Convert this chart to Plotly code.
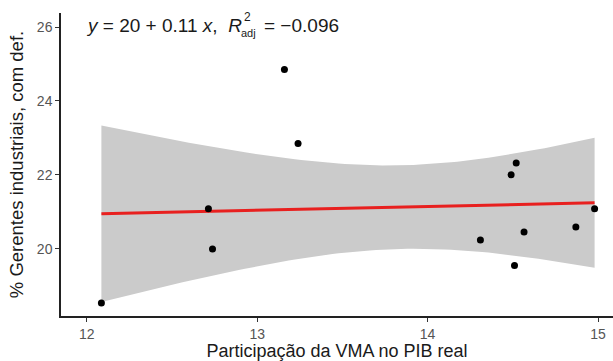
import numpy as np
import plotly.graph_objects as go

# Data
vma_share = [12.086, 13.16, 13.24, 12.714, 12.738, 14.52, 14.49, 14.31, 14.566, 14.51, 14.87, 14.98]
managers_pct = [18.53, 24.85, 22.85, 21.08, 19.99, 22.32, 22.0, 20.24, 20.45, 19.55, 20.59, 21.08]
x_ticks = [12, 13, 14, 15]
y_ticks = [20, 22, 24, 26]
eq_left = "<i>y</i> = 20 + 0.11 <i>x</i>,  <i>R</i>"
eq_sup = "2"
eq_sub = "adj"
eq_right = "= \u22120.096"

# Linear fit with 95% confidence band (as geom_smooth(method='lm'))
x = np.array(vma_share)
y = np.array(managers_pct)
n = len(x)
b1, b0 = np.polyfit(x, y, 1)
resid = y - (b0 + b1 * x)
s = np.sqrt(np.sum(resid ** 2) / (n - 2))
t_crit = 2.228  # t(0.975, df=10)
xs = np.linspace(x.min(), x.max(), 80)
fit = b0 + b1 * xs
se = s * np.sqrt(1 / n + (xs - x.mean()) ** 2 / np.sum((x - x.mean()) ** 2))
upper = fit + t_crit * se
lower = fit - t_crit * se

fig = go.Figure()
fig.add_trace(go.Scatter(x=np.concatenate([xs, xs[::-1]]), y=np.concatenate([upper, lower[::-1]]),
                         fill="toself", fillcolor="#cbcbcb", line=dict(width=0),
                         mode="lines", hoverinfo="skip", showlegend=False))
fig.add_trace(go.Scatter(x=xs, y=fit, mode="lines", line=dict(color="#e8201f", width=3),
                         showlegend=False))
fig.add_trace(go.Scatter(x=vma_share, y=managers_pct, mode="markers",
                         marker=dict(color="black", size=7), showlegend=False))

FONT = "Liberation Sans, Arial"
TXT = "#1a1a1a"
PL, PW, PT, PH = 61, 552, 13, 303  # plot area in pixels


def px(xp):
    return (xp - PL) / PW


def py(yp):
    return 1 - (yp - PT) / PH


ann = dict(xref="paper", yref="paper", yanchor="middle", showarrow=False, borderpad=0, borderwidth=0)
fig.add_annotation(x=px(242), y=py(25), xanchor="right", text=eq_left,
                   font=dict(family=FONT, size=19, color=TXT), **ann)
fig.add_annotation(x=px(244), y=py(17), xanchor="left", text=eq_sup,
                   font=dict(family=FONT, size=12, color=TXT), **ann)
fig.add_annotation(x=px(241), y=py(33), xanchor="left", text=eq_sub,
                   font=dict(family=FONT, size=11, color=TXT), **ann)
fig.add_annotation(x=px(264), y=py(25), xanchor="left", text=eq_right,
                   font=dict(family=FONT, size=19, color=TXT), **ann)

axis_common = dict(showgrid=False, zeroline=False, showline=True, linecolor="#222222", linewidth=1.5,
                   ticks="outside", ticklen=4, tickwidth=1.2, tickcolor="#333333",
                   tickfont=dict(family=FONT, size=14, color="#555555"))
fig.update_xaxes(range=[11.849, 15.088], tickvals=x_ticks, **axis_common,
                 title=dict(text="Participação da VMA no PIB real", standoff=3,
                            font=dict(family=FONT, size=18, color=TXT)))
fig.update_yaxes(range=[18.18, 26.38], tickvals=y_ticks, **axis_common,
                 title=dict(text="% Gerentes industriais, com def.", standoff=8,
                            font=dict(family=FONT, size=18.5, color=TXT)))
fig.update_layout(width=613, height=361, margin=dict(l=61, r=0, t=13, b=45),
                  plot_bgcolor="white", paper_bgcolor="white")
fig.write_html("out.html")
